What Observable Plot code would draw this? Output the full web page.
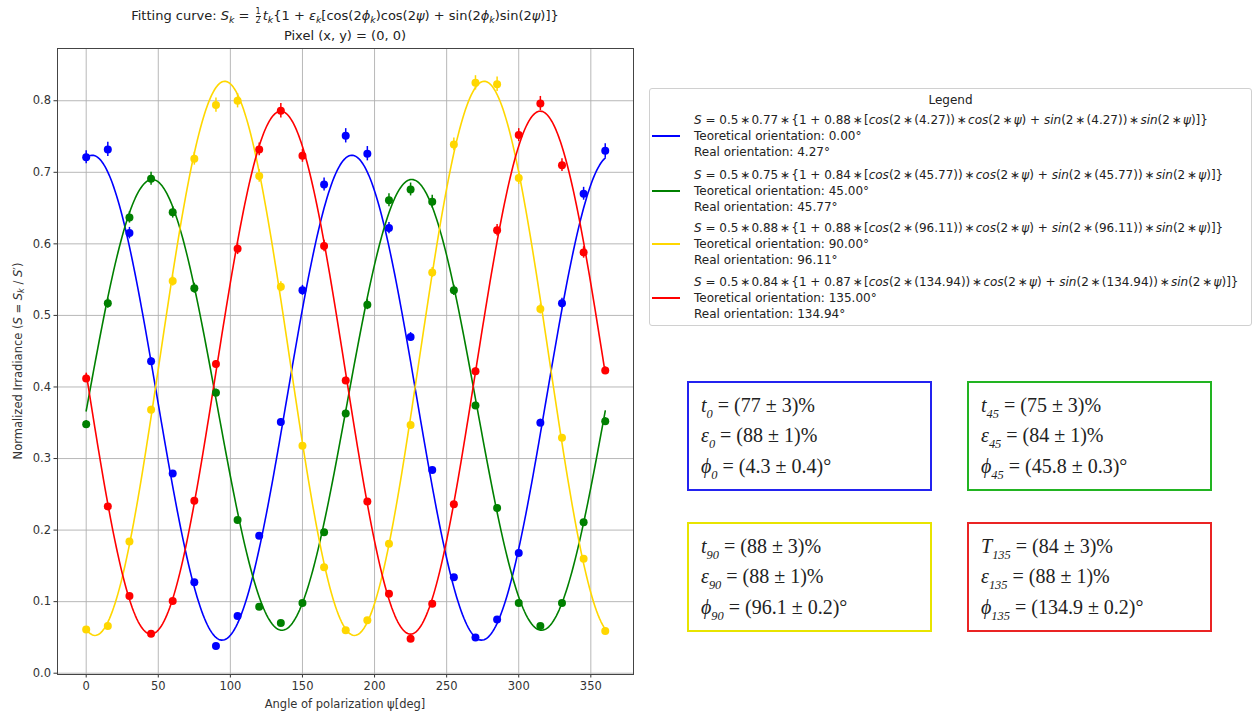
<!DOCTYPE html>
<html><head><meta charset="utf-8">
<script src="https://cdn.jsdelivr.net/npm/d3@7"></script>
<script src="https://cdn.jsdelivr.net/npm/@observablehq/plot@0.6"></script>
<style>
body{margin:0;background:#fff;width:1254px;height:715px;position:relative;overflow:hidden;font-family:"DejaVu Sans",sans-serif;color:#222;}
#chart{position:absolute;left:0;top:0;}
.abs{position:absolute;white-space:nowrap;}
.title{left:57px;width:576px;text-align:center;font-size:13px;line-height:16px;}
sub{font-size:72%;vertical-align:-0.3em;line-height:0;}
.frac{display:inline-flex;flex-direction:column;font-size:8px;line-height:7.5px;vertical-align:6px;text-align:center;margin:0 2px;}
.frac span:first-child{border-bottom:0.8px solid #222;}
#legend{position:absolute;left:649px;top:88px;width:603px;height:238px;box-sizing:border-box;border:1px solid #d0d0d0;border-radius:3px;background:#fff;}
.lg{position:absolute;font-size:12px;line-height:14px;white-space:nowrap;color:#222;}
.handle{position:absolute;height:2px;width:28px;left:2px;}
.box{position:absolute;box-sizing:border-box;border:2px solid;width:245px;height:110px;}
.bt{position:absolute;font-family:"Liberation Serif",serif;font-size:20px;line-height:24px;white-space:nowrap;color:#222;}
.bt sub{font-size:62%;vertical-align:-0.5em;font-style:italic;}
</style></head><body>
<div id="chart"></div>
<div class="abs title" style="top:8px;">Fitting curve: <i>S</i><sub><i>k</i></sub> = <span class="frac"><span>1</span><span>2</span></span><i>t</i><sub><i>k</i></sub>{1 + <i>ε</i><sub><i>k</i></sub>[cos(2<i>ϕ</i><sub><i>k</i></sub>)cos(2<i>ψ</i>) + sin(2<i>ϕ</i><sub><i>k</i></sub>)sin(2<i>ψ</i>)]}</div>
<div class="abs title" style="top:28px;">Pixel (x, y) = (0, 0)</div>
<div class="abs" style="left:57px;width:576px;text-align:center;top:697px;font-size:11.5px;color:#333;">Angle of polarization ψ[deg]</div>
<div class="abs" style="left:18px;top:361px;font-size:11.5px;color:#333;transform:translate(-50%,-50%) rotate(-90deg);">Normalized Irradiance (<i>S</i> = <i>S</i><sub><i>k</i></sub> / <i>S</i>′)</div>
<div id="legend"></div>
<div id="boxes"></div>
<script>
// ---- data ----
const angles = [0,15,30,45,60,75,90,105,120,135,150,165,180,195,210,225,240,255,270,285,300,315,330,345,360];
const seriesNames = ["0°","45°","90°","135°"];
const seriesColors = ["#0000ff","#008000","#ffd700","#ff0000"];
const boxColors = ["#2323f0","#22b422","#e8e400","#ea2424"];
const valuesBlue   = [0.721,0.732,0.615,0.436,0.279,0.127,0.038,0.080,0.192,0.351,0.535,0.683,0.751,0.726,0.622,0.470,0.284,0.134,0.050,0.075,0.168,0.350,0.517,0.670,0.730];
const valuesGreen  = [0.348,0.517,0.637,0.691,0.644,0.538,0.392,0.214,0.093,0.070,0.098,0.197,0.363,0.515,0.661,0.676,0.659,0.535,0.374,0.231,0.098,0.066,0.098,0.211,0.352];
const valuesYellow = [0.061,0.066,0.184,0.368,0.548,0.719,0.794,0.800,0.695,0.540,0.318,0.148,0.060,0.074,0.181,0.347,0.560,0.739,0.825,0.823,0.692,0.509,0.329,0.160,0.059];
const valuesRed    = [0.412,0.233,0.108,0.055,0.101,0.241,0.432,0.593,0.732,0.786,0.723,0.597,0.409,0.240,0.111,0.048,0.097,0.236,0.422,0.619,0.752,0.796,0.710,0.588,0.423];
const errBlue   = [0.009,0.010,0.008,0.005,0.003,0.002,0.001,0.001,0.003,0.005,0.007,0.009,0.010,0.010,0.008,0.006,0.003,0.002,0.001,0.001,0.003,0.005,0.007,0.009,0.010];
const errGreen  = [0.005,0.007,0.008,0.009,0.008,0.007,0.005,0.003,0.001,0.001,0.001,0.003,0.005,0.007,0.009,0.009,0.009,0.007,0.005,0.003,0.001,0.001,0.001,0.003,0.005];
const errYellow = [0.001,0.001,0.003,0.005,0.007,0.009,0.010,0.010,0.009,0.007,0.004,0.002,0.001,0.001,0.003,0.005,0.007,0.009,0.010,0.010,0.009,0.007,0.004,0.002,0.001];
const errRed    = [0.005,0.003,0.002,0.001,0.002,0.003,0.005,0.008,0.009,0.010,0.009,0.008,0.005,0.003,0.002,0.001,0.001,0.003,0.005,0.008,0.009,0.010,0.009,0.008,0.005];
// fitted parameters (from legend)
const fitT   = [0.77,0.75,0.88,0.84];
const fitEps = [0.88,0.84,0.88,0.87];
const fitPhi = [4.27,45.77,96.11,134.94];
const theoretical = ["0.00","45.00","90.00","135.00"];
// result boxes
const boxT    = ["(77 ± 3)%","(75 ± 3)%","(88 ± 3)%","(84 ± 3)%"];
const boxEps  = ["(88 ± 1)%","(84 ± 1)%","(88 ± 1)%","(88 ± 1)%"];
const boxPhi  = ["(4.3 ± 0.4)°","(45.8 ± 0.3)°","(96.1 ± 0.2)°","(134.9 ± 0.2)°"];
const boxSub  = ["0","45","90","135"];
const boxTSym = ["t","t","t","T"];
const xTicks = [0,50,100,150,200,250,300,350];
const yTicks = [0,0.1,0.2,0.3,0.4,0.5,0.6,0.7,0.8];

// ---- build tables ----
const allValues = [valuesBlue,valuesGreen,valuesYellow,valuesRed];
const allErr = [errBlue,errGreen,errYellow,errRed];
const points = [];
allValues.forEach((vals,k)=>angles.forEach((a,i)=>points.push({s:seriesNames[k],angle:a,value:vals[i],err:allErr[k][i]})));
const curve = [];
seriesNames.forEach((s,k)=>{
  for(let p=0;p<=360;p+=1){
    curve.push({s,angle:p,value:0.5*fitT[k]*(1+fitEps[k]*Math.cos(2*(p-fitPhi[k])*Math.PI/180))});
  }
});

const chart = Plot.plot({
  width:645, height:715,
  marginTop:48, marginBottom:41, marginLeft:57, marginRight:12,
  x:{domain:[-19.9,379.6]},
  y:{domain:[-0.0018,0.873]},
  color:{domain:seriesNames, range:seriesColors},
  style:{fontFamily:"DejaVu Sans", fontSize:"11.5px", color:"#333", background:"transparent", overflow:"visible"},
  marks:[
    Plot.gridX(xTicks,{stroke:"#b0b0b0",strokeOpacity:1,strokeWidth:0.9}),
    Plot.gridY(yTicks,{stroke:"#b0b0b0",strokeOpacity:1,strokeWidth:0.9}),
    Plot.line(curve,{x:"angle",y:"value",z:"s",stroke:"s",strokeWidth:1.6}),
    Plot.ruleX(points,{x:"angle",y1:d=>d.value-d.err,y2:d=>d.value+d.err,stroke:"s",strokeWidth:1.5}),
    Plot.dot(points,{x:"angle",y:"value",fill:"s",r:4}),
    Plot.axisX(xTicks,{tickSize:3.5,tickPadding:4,label:null,stroke:"#333"}),
    Plot.axisY(yTicks,{tickSize:3.5,tickPadding:3,label:null,tickFormat:d3.format(".1f"),stroke:"#333"}),
    Plot.frame({stroke:"#444",strokeWidth:1})
  ]
});
document.getElementById("chart").appendChild(chart);

// ---- legend ----
const lg = document.getElementById("legend");
const title = document.createElement("div");
title.className="lg"; title.style.left="0"; title.style.width="601px"; title.style.textAlign="center"; title.style.top="4px";
title.textContent="Legend"; lg.appendChild(title);
const entryTop = [136,191,244,298];
const st = "<span style='margin:0 1.5px'>∗</span>";
seriesNames.forEach((s,k)=>{
  const cy = entryTop[k]-88-1;
  const h = document.createElement("div");
  h.className="handle"; h.style.top=(cy-1)+"px"; h.style.background=seriesColors[k]; lg.appendChild(h);
  const ph = fitPhi[k].toFixed(2);
  const lines = [
    `<i>S</i> = 0.5${st}${fitT[k].toFixed(2)}${st}{1 + ${fitEps[k].toFixed(2)}${st}[<i>cos</i>(2${st}(${ph}))${st}<i>cos</i>(2${st}<i>ψ</i>) + <i>sin</i>(2${st}(${ph}))${st}<i>sin</i>(2${st}<i>ψ</i>)]}`,
    `Teoretical orientation: ${theoretical[k]}°`,
    `Real orientation: ${ph}°`
  ];
  const offs=[-16,0,16];
  lines.forEach((html,j)=>{
    const d=document.createElement("div");
    d.className="lg"; d.style.left="44px"; d.style.top=(cy+offs[j]-7)+"px"; d.innerHTML=html;
    lg.appendChild(d);
  });
});

// ---- boxes ----
const boxPos = [[687,381],[967,381],[687,522],[967,522]];
seriesNames.forEach((s,k)=>{
  const b=document.createElement("div");
  b.className="box"; b.style.left=boxPos[k][0]+"px"; b.style.top=boxPos[k][1]+"px"; b.style.borderColor=boxColors[k];
  document.body.appendChild(b);
  const lines=[
    `<i>${boxTSym[k]}</i><sub>${boxSub[k]}</sub> = ${boxT[k]}`,
    `<i>ε</i><sub>${boxSub[k]}</sub> = ${boxEps[k]}`,
    `<i>ϕ</i><sub>${boxSub[k]}</sub> = ${boxPhi[k]}`
  ];
  const cys=[24,54,85];
  lines.forEach((html,j)=>{
    const d=document.createElement("div");
    d.className="bt"; d.style.left=(boxPos[k][0]+14)+"px"; d.style.top=(boxPos[k][1]+cys[j]-12)+"px"; d.innerHTML=html;
    document.body.appendChild(d);
  });
});
</script>
</body></html>
